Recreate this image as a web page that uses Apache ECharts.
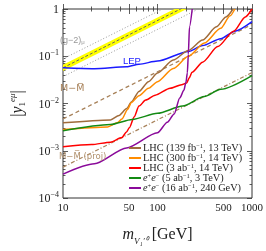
<!DOCTYPE html>
<html><head><meta charset="utf-8">
<script src="https://cdn.jsdelivr.net/npm/echarts@6/dist/echarts.min.js"></script>
<style>html,body{margin:0;padding:0;background:#fff}#c{width:266px;height:251px}</style>
</head><body><div id="c"></div>
<script>
// ---- data (mass in GeV, coupling |y|) ----
const xTickValues = [10, 50, 100, 500, 1000];
const xMinorValues = [20, 30, 40, 60, 70, 80, 90, 200, 300, 400, 600, 700, 800, 900];
const yTickValues = [1e-4, 1e-3, 1e-2, 1e-1, 1];
const yMinorValues = [2e-4,3e-4,4e-4,5e-4,6e-4,7e-4,8e-4,9e-4,2e-3,3e-3,4e-3,5e-3,6e-3,7e-3,8e-3,9e-3,2e-2,3e-2,4e-2,5e-2,6e-2,7e-2,8e-2,9e-2,0.2,0.3,0.4,0.5,0.6,0.7,0.8,0.9];

const gm2Mass = [10, 1000];
const gm2Center = [0.057, 5.7];
const gm2BandLow = [0.049, 4.9];
const gm2BandHigh = [0.066, 6.6];
const gm2DotLow = [0.037, 3.7];
const gm2DotHigh = [0.088, 8.8];

const lepMass = [10, 21.5, 47, 63.7, 100, 212, 300, 466, 659, 1000];
const lepY = [0.057, 0.0545, 0.0596, 0.068, 0.079, 0.126, 0.168, 0.235, 0.34, 0.54];

const mmMass = [10, 1000];
const mmY = [0.0047, 0.47];
const mmProjMass = [10, 1000];
const mmProjY = [0.00045, 0.045];

const lhc139Mass = [10, 31.8, 39.2, 47.2, 52.9, 63.7, 80.3, 100, 146.7, 212, 300, 420, 530, 630];
const lhc139Y = [0.0039, 0.0045, 0.0056, 0.0078, 0.0108, 0.018, 0.029, 0.044, 0.083, 0.133, 0.22, 0.42, 0.68, 1.0];

const lhc300Mass = [10, 29.7, 37.4, 42, 48.2, 52.9, 63.7, 80.3, 100, 146.7, 212, 313, 466, 587, 659];
const lhc300Y = [0.0028, 0.0032, 0.0039, 0.0047, 0.0075, 0.0105, 0.0146, 0.021, 0.029, 0.055, 0.1, 0.19, 0.39, 0.72, 1.0];

const lhc3abMass = [10, 20, 31.8, 42, 47, 50.5, 56.6, 63.7, 75, 94.5, 136, 180, 203, 217, 232, 300, 434, 640, 850, 1000];
const lhc3abY = [0.00121, 0.00135, 0.00152, 0.0019, 0.0025, 0.0031, 0.0052, 0.0088, 0.0118, 0.015, 0.021, 0.025, 0.027, 0.035, 0.046, 0.075, 0.16, 0.34, 0.68, 1.0];

const ee3Mass = [10, 31.8, 54, 100, 184, 313, 466, 1000];
const ee3Y = [0.00265, 0.0036, 0.0046, 0.0062, 0.0088, 0.014, 0.02, 0.039];

const ee240Mass = [10, 21.5, 47, 100, 127, 150, 172, 190, 200, 207, 212, 218, 233];
const ee240Y = [0.00032, 0.00053, 0.00115, 0.0024, 0.004, 0.006, 0.013, 0.019, 0.028, 0.045, 0.11, 0.42, 1.0];

const legendNames = ['LHC (139 fb⁻¹, 13 TeV)', 'LHC (300 fb⁻¹, 14 TeV)', 'LHC (3 ab⁻¹, 14 TeV)', 'e⁺e⁻ (5 ab⁻¹, 3 TeV)', 'e⁺e⁻ (16 ab⁻¹, 240 GeV)'];

// ---- helpers ----
const L = Math.log10;
const pts = (ms, ys) => ms.map((m, i) => [L(m), L(ys[i])]);
const SERIF = 'Liberation Serif';
const SANS = 'Liberation Sans';

function legendRich(name) {
  let s = name.replace('e⁺e⁻', '{i|e}{p|+}{i|e}{p|−}{t|');
  if (!s.startsWith('{')) s = '{t|' + s;
  s = s.replace('⁻¹', '}{p|−1}{t|');
  return s + '}';
}

const chart = echarts.init(document.getElementById('c'), null, {renderer: 'canvas'});

const xBase = {type: 'value', min: 1, max: 3, splitLine: {show: false}, axisLine: {show: false}};
const yBase = {type: 'value', min: -4, max: 0, splitLine: {show: false}, axisLine: {show: false}};
const tickStyle = {color: '#333', width: 0.8};

function lineSeries(name, data, color, extra) {
  return Object.assign({
    type: 'line', name: name, data: data, symbol: 'none', showSymbol: false,
    smooth: 0.25, smoothMonotone: 'x',
    lineStyle: {color: color, width: 1.5}, itemStyle: {color: color},
    xAxisIndex: 0, yAxisIndex: 0, z: 3, animation: false
  }, extra || {});
}

const option = {
  animation: false,
  grid: {left: 53, top: 9, width: 199, height: 196, show: true, borderColor: '#333', borderWidth: 1, backgroundColor: 'transparent'},
  xAxis: [
    Object.assign({}, xBase, {
      position: 'bottom',
      axisTick: {inside: true, length: 5, customValues: xTickValues.map(L), lineStyle: tickStyle},
      axisLabel: {customValues: xTickValues.map(L), formatter: v => String(Math.round(Math.pow(10, v))),
        fontFamily: SERIF, fontSize: 11, color: '#222', margin: 5},
      name: '{m|m}{s|V₁′⁰}{g| [GeV]}', nameLocation: 'middle', nameGap: 29,
      nameTextStyle: {rich: {
        m: {fontFamily: SERIF, fontStyle: 'italic', fontSize: 16, color: '#222', verticalAlign: 'top', lineHeight: 19},
        s: {fontFamily: SERIF, fontStyle: 'italic', fontSize: 9, color: '#222', verticalAlign: 'bottom', lineHeight: 19},
        g: {fontFamily: SERIF, fontSize: 16, color: '#222', verticalAlign: 'top', lineHeight: 19}
      }}
    }),
    Object.assign({}, xBase, {position: 'bottom', axisLabel: {show: false},
      axisTick: {inside: true, length: 2.5, customValues: xMinorValues.map(L), lineStyle: tickStyle}}),
    Object.assign({}, xBase, {position: 'top', axisLabel: {show: false},
      axisTick: {inside: true, length: 5, customValues: xTickValues.map(L), lineStyle: tickStyle}}),
    Object.assign({}, xBase, {position: 'top', axisLabel: {show: false},
      axisTick: {inside: true, length: 2.5, customValues: xMinorValues.map(L), lineStyle: tickStyle}})
  ],
  yAxis: [
    Object.assign({}, yBase, {
      position: 'left',
      axisTick: {inside: true, length: 5, customValues: yTickValues.map(L), lineStyle: tickStyle},
      axisLabel: {customValues: yTickValues.map(L), margin: 4,
        formatter: v => Math.round(v) === 0 ? '{b|1}' : '{b|10}{s|' + String(Math.round(v)).replace('-', '−') + '}',
        rich: {
          b: {fontFamily: SERIF, fontSize: 12, color: '#222', lineHeight: 14, verticalAlign: 'bottom'},
          s: {fontFamily: SERIF, fontSize: 8, color: '#222', lineHeight: 14, verticalAlign: 'top'}
        }},
      name: '{b||}{i|y}{s|1}{p|eμ}{b||}', nameLocation: 'middle', nameGap: 36, nameRotate: 90,
      nameTextStyle: {rich: {
        b: {fontFamily: SERIF, fontSize: 16, color: '#222', lineHeight: 19},
        i: {fontFamily: SERIF, fontStyle: 'italic', fontSize: 16, color: '#222', lineHeight: 19},
        s: {fontFamily: SERIF, fontSize: 9, color: '#222', lineHeight: 19, verticalAlign: 'bottom'},
        p: {fontFamily: SERIF, fontStyle: 'italic', fontSize: 9, color: '#222', lineHeight: 19, verticalAlign: 'top'}
      }}
    }),
    Object.assign({}, yBase, {position: 'left', axisLabel: {show: false},
      axisTick: {inside: true, length: 2.5, customValues: yMinorValues.map(L), lineStyle: tickStyle}}),
    Object.assign({}, yBase, {position: 'right', axisLabel: {show: false},
      axisTick: {inside: true, length: 5, customValues: yTickValues.map(L), lineStyle: tickStyle}}),
    Object.assign({}, yBase, {position: 'right', axisLabel: {show: false},
      axisTick: {inside: true, length: 2.5, customValues: yMinorValues.map(L), lineStyle: tickStyle}})
  ],
  legend: {
    data: legendNames, orient: 'vertical', left: 129, top: 143, icon: 'rect',
    itemWidth: 12, itemHeight: 2, itemGap: 0, padding: 0, selectedMode: false,
    formatter: legendRich,
    textStyle: {fontFamily: SERIF, fontSize: 10, color: '#222', lineHeight: 9.5, padding: [0, 0, 0, -3],
      rich: {
        t: {fontFamily: SERIF, fontSize: 10.3, color: '#222', lineHeight: 9.5},
        i: {fontFamily: SERIF, fontStyle: 'italic', fontSize: 10.3, color: '#222', lineHeight: 9.5},
        p: {fontFamily: SERIF, fontSize: 6.5, color: '#222', lineHeight: 9.5, verticalAlign: 'top'}
      }}
  },
  series: [
    {
      type: 'custom', name: 'gm2band', xAxisIndex: 0, yAxisIndex: 0, z: 1, clip: true, silent: true,
      data: [[L(gm2Mass[0]), L(gm2Center[0])]],
      renderItem: (params, api) => {
        const up = gm2Mass.map((m, i) => api.coord([L(m), L(gm2BandHigh[i])]));
        const lo = gm2Mass.map((m, i) => api.coord([L(m), L(gm2BandLow[i])])).reverse();
        return {type: 'polygon', shape: {points: up.concat(lo)}, style: {fill: '#ffff00', stroke: null}};
      }
    },
    lineSeries('gm2c', pts(gm2Mass, gm2Center), '#777', {smooth: false, lineStyle: {color: '#666', width: 1, type: [3, 2]}, z: 2}),
    lineSeries('gm2dl', pts(gm2Mass, gm2DotLow), '#999', {smooth: false, lineStyle: {color: '#999', width: 1, type: [1, 2]}, z: 2}),
    lineSeries('gm2dh', pts(gm2Mass, gm2DotHigh), '#999', {smooth: false, lineStyle: {color: '#999', width: 1, type: [1, 2]}, z: 2}),
    lineSeries('mm', pts(mmMass, mmY), '#a8825a', {smooth: false, lineStyle: {color: '#a8825a', width: 1.3, type: [4, 3]}, z: 2}),
    lineSeries('mmproj', pts(mmProjMass, mmProjY), '#a8825a', {smooth: false, lineStyle: {color: '#a8825a', width: 1.2, type: [4, 2, 1, 2]}, z: 2}),
    lineSeries('LEP', pts(lepMass, lepY), '#1a1aff'),
    lineSeries(legendNames[0], pts(lhc139Mass, lhc139Y), '#a06c3c'),
    lineSeries(legendNames[1], pts(lhc300Mass, lhc300Y), '#ff8c00'),
    lineSeries(legendNames[2], pts(lhc3abMass, lhc3abY), '#ff0000'),
    lineSeries(legendNames[3], pts(ee3Mass, ee3Y), '#138a13'),
    lineSeries(legendNames[4], pts(ee240Mass, ee240Y), '#8a0a9a')
  ],
  graphic: [
    {type: 'text', left: 60, top: 36, z: 10, style: {text: '{a|(g−2)}{s|μ}', rich: {
      a: {fontFamily: SANS, fontSize: 9, fill: '#999', lineHeight: 11, verticalAlign: 'bottom'},
      s: {fontFamily: SANS, fontSize: 6, fill: '#999', lineHeight: 11, verticalAlign: 'bottom'}}}},
    {type: 'text', left: 123, top: 56, z: 10, style: {text: 'LEP', fontFamily: SANS, fontSize: 9.5, fill: '#1a1aff'}},
    {type: 'text', left: 60, top: 84, z: 10, style: {text: 'M−M\u0305', fontFamily: 'DejaVu Sans', fontSize: 9.5, fill: '#a8825a'}},
    {type: 'text', left: 59, top: 152, z: 10, style: {text: 'M−M\u0305 (proj)', fontFamily: 'DejaVu Sans', fontSize: 8.5, fill: '#b0906c'}}
  ]
};
chart.setOption(option);
</script>
</body></html>
